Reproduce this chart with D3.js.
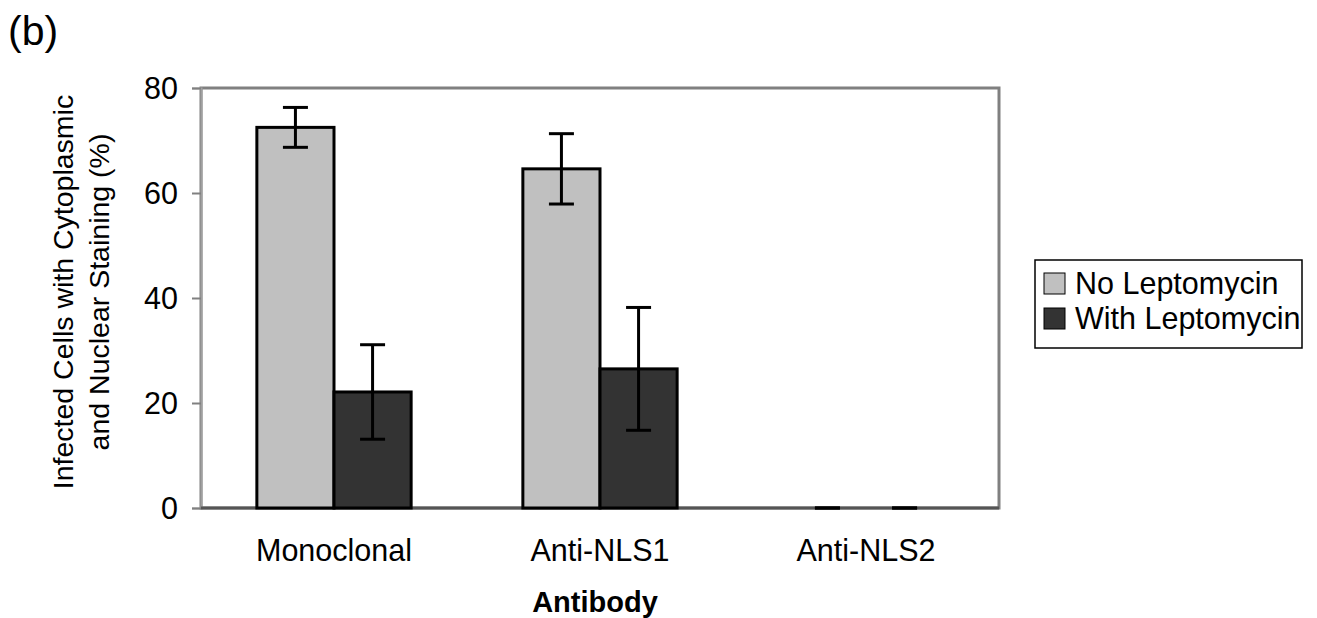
<!DOCTYPE html>
<html lang="en">
<head>
<meta charset="utf-8">
<title>Cytoplasmic and nuclear staining</title>
<script src="https://cdn.jsdelivr.net/npm/d3@7"></script>
<style>
  body { margin: 0; background: #fff; }
  text { font-family: "Liberation Sans", Arial, sans-serif; fill: #000; }
</style>
</head>
<body>
<svg id="chart" width="1317" height="618"></svg>
<script>
// values
let antibodies = ["Monoclonal", "Anti-NLS1", "Anti-NLS2"]
let series = ["No Leptomycin", "With Leptomycin"]
let noLepto = [72.5, 64.6, 0]
let noLeptoErr = [3.8, 6.7, 0]
let withLepto = [22.1, 26.5, 0]
let withLeptoErr = [9.0, 11.7, 0]
let yTicks = [0, 20, 40, 60, 80]
let colors = ["#c0c0c0", "#333333"]

let margin = {left: 201, right: 318, top: 88, bottom: 110},
  width = 1317 - margin.left - margin.right,
  height = 618 - margin.top - margin.bottom

let rows = antibodies.map((a, i) => ({
  antibody: a,
  values: [
    {key: series[0], value: noLepto[i], err: noLeptoErr[i]},
    {key: series[1], value: withLepto[i], err: withLeptoErr[i]}
  ]
}))

let svg = d3.select("#chart")
let g = svg.append("g")
  .attr("transform", `translate(${margin.left},${margin.top})`)

let x0 = d3.scaleBand()
  .domain(antibodies)
  .range([0, width])
  .paddingInner(0.42)
  .paddingOuter(0.21)
let x1 = d3.scaleBand()
  .domain(series)
  .range([0, x0.bandwidth()])
let y = d3.scaleLinear()
  .domain([0, 80])
  .range([height, 0])
let fill = d3.scaleOrdinal().domain(series).range(colors)

// plot area frame
g.append("rect")
  .attr("width", width)
  .attr("height", height)
  .attr("fill", "#fff")
  .attr("stroke", "#808080")
  .attr("stroke-width", 3)

// y axis
let yAxis = g.append("g")
  .call(d3.axisLeft(y).tickValues(yTicks).tickSize(9).tickPadding(14))
yAxis.select(".domain").attr("stroke", "#a0a0a0").attr("stroke-width", 2)
yAxis.selectAll(".tick line").attr("stroke", "#808080").attr("stroke-width", 2)
yAxis.selectAll(".tick text")
  .style("font-size", "30.5px")
  .attr("dy", "0.35em")

// x axis line
g.append("line")
  .attr("x1", 0).attr("x2", width)
  .attr("y1", height).attr("y2", height)
  .attr("stroke", "#555").attr("stroke-width", 3)

// bars
let groups = g.selectAll(".group")
  .data(rows).enter()
  .append("g")
  .attr("transform", d => `translate(${x0(d.antibody)},0)`)

groups.selectAll("rect")
  .data(d => d.values).enter()
  .append("rect")
  .attr("x", d => x1(d.key))
  .attr("width", x1.bandwidth())
  .attr("y", d => y(d.value))
  .attr("height", d => y(0) - y(d.value))
  .attr("fill", d => fill(d.key))
  .attr("stroke", "#000")
  .attr("stroke-width", 3)

// error bars
let err = groups.selectAll(".err")
  .data(d => d.values).enter()
  .append("g")
  .attr("stroke", "#000")
  .attr("stroke-width", 3)
let cx = d => x1(d.key) + x1.bandwidth() / 2
err.append("line")
  .attr("x1", cx).attr("x2", cx)
  .attr("y1", d => y(d.value + d.err))
  .attr("y2", d => y(d.value - d.err))
err.selectAll(".cap")
  .data(d => [
    {x: cx(d), v: d.value + d.err},
    {x: cx(d), v: d.value - d.err}
  ]).enter()
  .append("line")
  .attr("x1", d => d.x - 12.5).attr("x2", d => d.x + 12.5)
  .attr("y1", d => y(d.v)).attr("y2", d => y(d.v))

// category labels
g.selectAll(".cat")
  .data(antibodies).enter()
  .append("text")
  .attr("x", d => x0(d) + x0.bandwidth() / 2)
  .attr("y", height + 53)
  .attr("text-anchor", "middle")
  .style("font-size", "30.5px")
  .text(d => d)

// axis titles
g.append("text")
  .attr("x", width / 2 - 5)
  .attr("y", height + 104)
  .attr("text-anchor", "middle")
  .style("font-size", "29px")
  .style("font-weight", "bold")
  .text("Antibody")

let ylab = svg.append("text")
  .attr("transform", "translate(73,292) rotate(-90)")
  .attr("text-anchor", "middle")
  .style("font-size", "28.5px")
ylab.append("tspan").attr("x", 0).attr("dy", 0)
  .text("Infected Cells with Cytoplasmic")
ylab.append("tspan").attr("x", 0).attr("dy", 36)
  .text("and Nuclear Staining (%)")

// panel letter
svg.append("text")
  .attr("x", 8).attr("y", 45)
  .style("font-size", "41px")
  .text("(b)")

// legend
let legend = svg.append("g").attr("transform", "translate(1035,260)")
legend.append("rect")
  .attr("width", 267).attr("height", 88)
  .attr("fill", "#fff").attr("stroke", "#000").attr("stroke-width", 1.5)
let item = legend.selectAll(".item")
  .data(series).enter()
  .append("g")
  .attr("transform", (d, i) => `translate(9,${13 + i * 35})`)
item.append("rect")
  .attr("width", 21).attr("height", 21)
  .attr("fill", d => fill(d))
  .attr("stroke", "#000").attr("stroke-width", 1)
item.append("text")
  .attr("x", 31).attr("y", 21)
  .style("font-size", "30.5px")
  .text(d => d)
</script>
</body>
</html>
